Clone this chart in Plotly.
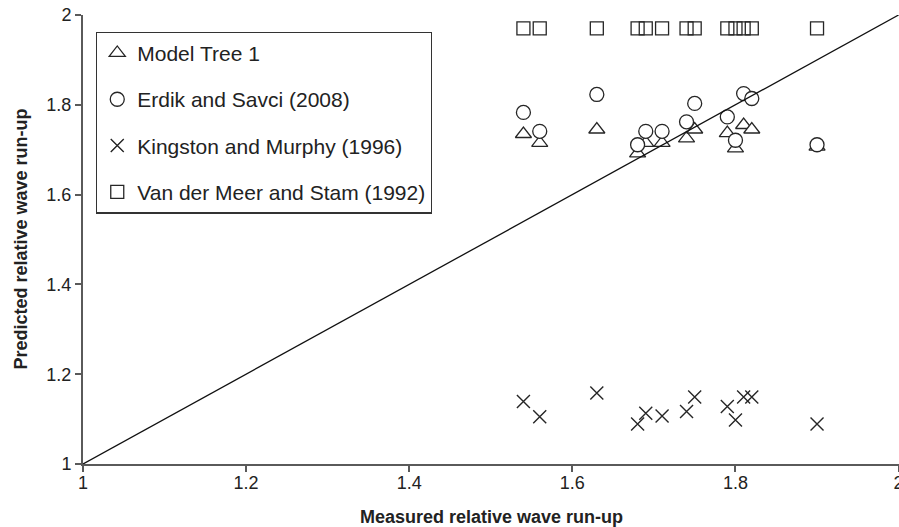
import plotly.graph_objects as go

# Measured relative wave run-up (shared x for all series)
measured = [1.54, 1.56, 1.63, 1.68, 1.69, 1.71, 1.74, 1.75, 1.79, 1.80, 1.81, 1.82, 1.90]

model_tree_1 = [1.735, 1.715, 1.745, 1.692, 1.715, 1.715, 1.725, 1.745, 1.737, 1.703, 1.755, 1.745, 1.707]
erdik_savci = [1.783, 1.741, 1.823, 1.711, 1.741, 1.741, 1.762, 1.803, 1.773, 1.721, 1.825, 1.814, 1.711]
kingston_murphy = [1.139, 1.105, 1.158, 1.089, 1.113, 1.107, 1.117, 1.149, 1.128, 1.098, 1.149, 1.149, 1.089]
van_der_meer_stam = [1.97] * 13

series_names = ["Model Tree 1", "Erdik and Savci (2008)",
                "Kingston and Murphy (1996)", "Van der Meer and Stam (1992)"]

tick_vals = [1, 1.2, 1.4, 1.6, 1.8, 2]
tick_text = ["1", "1.2", "1.4", "1.6", "1.8", "2"]
diag = [1, 2]

INK = "#262626"
FONT = "Liberation Sans, Arial, sans-serif"

fig = go.Figure()

styles = [
    dict(symbol="triangle-up", size=14, color="white", line=dict(color=INK, width=1.3)),
    dict(symbol="circle", size=14, color="white", line=dict(color=INK, width=1.3)),
    dict(symbol="x-thin", size=13, color=INK, line=dict(color=INK, width=1.4)),
    dict(symbol="square-open", size=13, color=INK, line=dict(color=INK, width=1.3)),
]
values = [model_tree_1, erdik_savci, kingston_murphy, van_der_meer_stam]

for name, vals, st in zip(series_names, values, styles):
    fig.add_trace(go.Scatter(
        x=measured, y=vals, mode="markers", name=name,
        legendgroup=name, marker=st,
    ))

fig.add_trace(go.Scatter(
    x=diag, y=diag, mode="lines", showlegend=False,
    line=dict(color="#111111", width=1.3), hoverinfo="skip",
))

axis_common = dict(
    tickvals=tick_vals, ticktext=tick_text,
    showgrid=False, zeroline=False, showline=True,
    linecolor="#5a5a5a", linewidth=2,
    ticks="outside", ticklen=6, tickwidth=1.5, tickcolor="#5a5a5a",
    tickfont=dict(family=FONT, size=18, color="#222222"),
    ticklabeloverflow="allow", automargin=False,
)

fig.update_layout(
    width=899, height=527,
    margin=dict(l=83, r=0, t=15, b=63),
    paper_bgcolor="white", plot_bgcolor="white",
    xaxis=dict(range=[1, 2.0005], ticklabelstandoff=-5, **axis_common),
    yaxis=dict(range=[1, 2], **axis_common),
    showlegend=True,
    legend=dict(
        x=0.016, y=0.963, xanchor="left", yanchor="top",
        bordercolor="#333333", borderwidth=1.2, bgcolor="white",
        font=dict(family=FONT, size=21, color="#222222"),
        tracegroupgap=16, itemsizing="trace",
    ),
    annotations=[
        dict(text="<b>Measured relative wave run-up</b>", xref="paper", yref="paper",
             x=0.5, y=0, yshift=-53, xanchor="center", yanchor="middle",
             showarrow=False, font=dict(family=FONT, size=18, color="#222222")),
        dict(text="<b>Predicted relative wave run-up</b>", xref="paper", yref="paper",
             x=0, y=0.5, xshift=-63, xanchor="center", yanchor="middle", textangle=-90,
             showarrow=False, font=dict(family=FONT, size=18, color="#222222")),
    ],
)

fig.write_html("out.html")
